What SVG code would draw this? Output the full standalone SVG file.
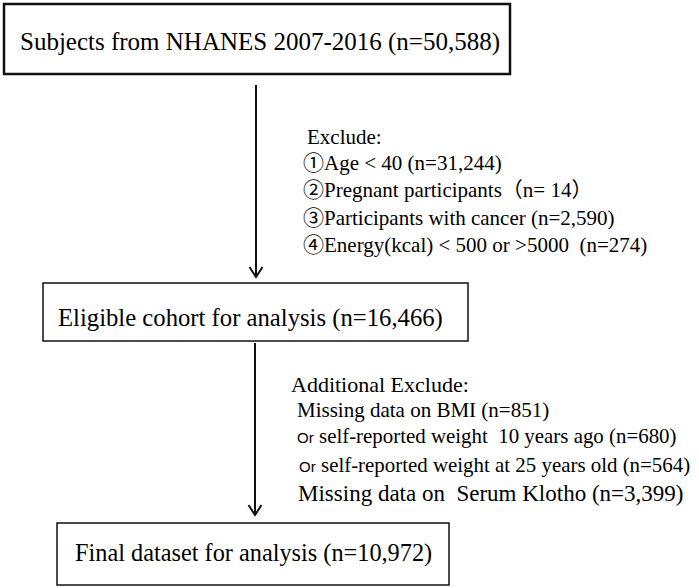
<svg xmlns="http://www.w3.org/2000/svg" width="699" height="588" viewBox="0 0 699 588">
<style>
.box{fill:#fff;stroke:#111;stroke-width:1.5}
.thick{stroke-width:2.5}
.t{font-family:"Liberation Serif","Noto Sans CJK SC",serif;fill:#000}
.big{font-size:25px}
.mid{font-size:21px}
.or{font-family:"Liberation Sans",Arial,sans-serif;font-size:15px;fill:#000}
.conn line{stroke:#111;stroke-width:2}
.conn polyline{fill:none;stroke:#111;stroke-width:2}
</style>
<rect width="699" height="588" fill="#fff"/>
<g id="connectors" class="conn">
<line x1="256" y1="85" x2="256" y2="276"/>
<polyline points="249.5,267 256,277 262.5,267"/>
<line x1="255" y1="343" x2="255" y2="514"/>
<polyline points="248.5,505 255,515 261.5,505"/>
</g>
<g id="n1">
<rect class="box thick" x="4" y="4" width="506" height="70"/>
<text class="t big" x="20" y="50">Subjects from NHANES 2007-2016 (n=50,588)</text>
</g>
<g id="exclude1">
<text class="t mid" x="307" y="144">Exclude:</text>
<text class="t mid" x="303" y="170">①Age &lt; 40 (n=31,244)</text>
<text class="t mid" x="303" y="197">②Pregnant participants（n= 14）</text>
<text class="t mid" x="303" y="225">③Participants with cancer (n=2,590)</text>
<text class="t mid" x="303" y="252" xml:space="preserve">④Energy(kcal) &lt; 500 or &gt;5000  (n=274)</text>
</g>
<g id="n2">
<rect class="box" x="43" y="283" width="425" height="58"/>
<text class="t big" x="58" y="326" style="font-size:24.7px">Eligible cohort for analysis (n=16,466)</text>
</g>
<g id="exclude2">
<text class="t" x="291" y="392" style="font-size:22px">Additional Exclude:</text>
<text class="t mid" x="297" y="417">Missing data on BMI (n=851)</text>
<text class="or" x="297" y="443">Or</text>
<text class="t" x="319" y="443" style="font-size:20.9px" xml:space="preserve">self-reported weight  10 years ago (n=680)</text>
<text class="or" x="299" y="472">Or</text>
<text class="t" x="321" y="472" style="font-size:20.9px">self-reported weight at 25 years old (n=564)</text>
<text class="t" x="298" y="501" style="font-size:23px" xml:space="preserve">Missing data on  Serum Klotho (n=3,399)</text>
</g>
<g id="n3">
<rect class="box" x="57" y="523" width="392" height="62"/>
<text class="t big" x="75" y="561" style="font-size:24.3px">Final dataset for analysis (n=10,972)</text>
</g>
</svg>
